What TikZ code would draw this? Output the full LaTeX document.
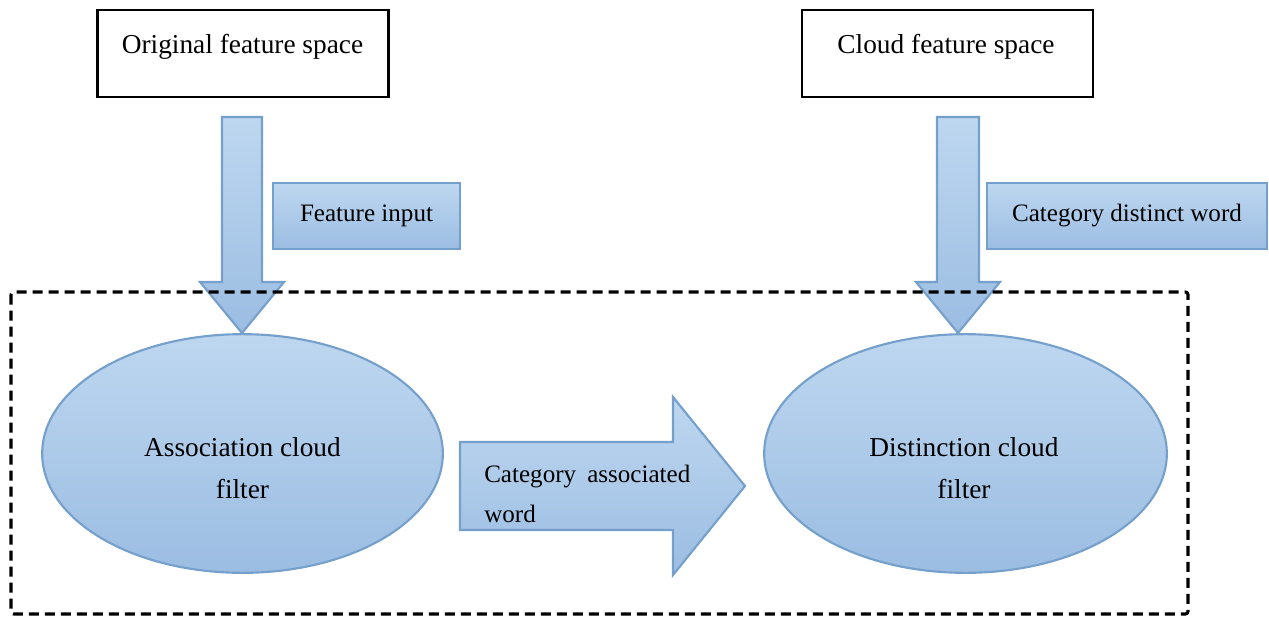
\documentclass[tikz,border=0pt]{standalone}
\usepackage{fontspec}
\setmainfont{Liberation Serif}
\usetikzlibrary{shapes.geometric}
\definecolor{bluetop}{RGB}{190,215,240}
\definecolor{bluebot}{RGB}{155,189,226}
\definecolor{blueline}{RGB}{118,160,204}
\begin{document}
\begin{tikzpicture}[x=0.75pt,y=-0.75pt,
  plainbox/.style={draw=black,line width=1.8pt,inner sep=0pt},
  bluefill/.style={draw=blueline,line width=1.6pt,top color=bluetop,bottom color=bluebot},
  bigtext/.style={font=\fontsize{20.5}{31.5}\selectfont,align=center,inner sep=0pt},
  smalltext/.style={font=\fontsize{18.8}{30.5}\selectfont,inner sep=0pt},
  frame/.style={draw=black,line width=2.3pt,dash pattern=on 7.5pt off 4.5pt,rounded corners=2pt}]
\useasboundingbox (0,0) rectangle (1269,617);
% top boxes
\node[plainbox,minimum width=218.5pt,minimum height=65pt] (orig) at (243,53.5) {};
\node[bigtext] (origt) at (242.5,47) {Original feature space};
\node[plainbox,minimum width=218.5pt,minimum height=65pt] (cloud) at (947.5,53.5) {};
\node[bigtext] (cloudt) at (946,47) {Cloud feature space};
% down block arrows
\path[bluefill] (222,117) -- (262,117) -- (262,282) -- (284,282) -- (242,333) -- (200,282) -- (222,282) -- cycle;
\path[bluefill] (937,117) -- (979,117) -- (979,282) -- (1000,282) -- (958,333) -- (916,282) -- (937,282) -- cycle;
% label boxes
\node[bluefill,smalltext,minimum width=140.25pt,minimum height=49.5pt] (fin) at (366.5,216) {Feature input};
\node[bluefill,smalltext,minimum width=210pt,minimum height=49.5pt] (cdw) at (1127,216) {Category distinct word};
% ellipses
\node[ellipse,bluefill,minimum width=300.5pt,minimum height=179pt,inner sep=0pt] (acf) at (242.5,453.5) {};
\node[bigtext] (acft) at (242.5,468) {Association cloud\\filter};
\node[ellipse,bluefill,minimum width=302pt,minimum height=179pt,inner sep=0pt] (dcf) at (965.5,453.5) {};
\node[bigtext] (dcft) at (964,468) {Distinction cloud\\filter};
% right block arrow
\path[bluefill] (460,442) -- (673,442) -- (673,397) -- (745,486) -- (673,575) -- (673,530) -- (460,530) -- cycle;
\node[smalltext,anchor=west,align=left] (caw) at (484,494) {\hbox to 154.5pt{Category\hfill associated}\\word};
% dashed frame
\draw[frame] (11,292) rectangle (1188,614);
\end{tikzpicture}
\end{document}
